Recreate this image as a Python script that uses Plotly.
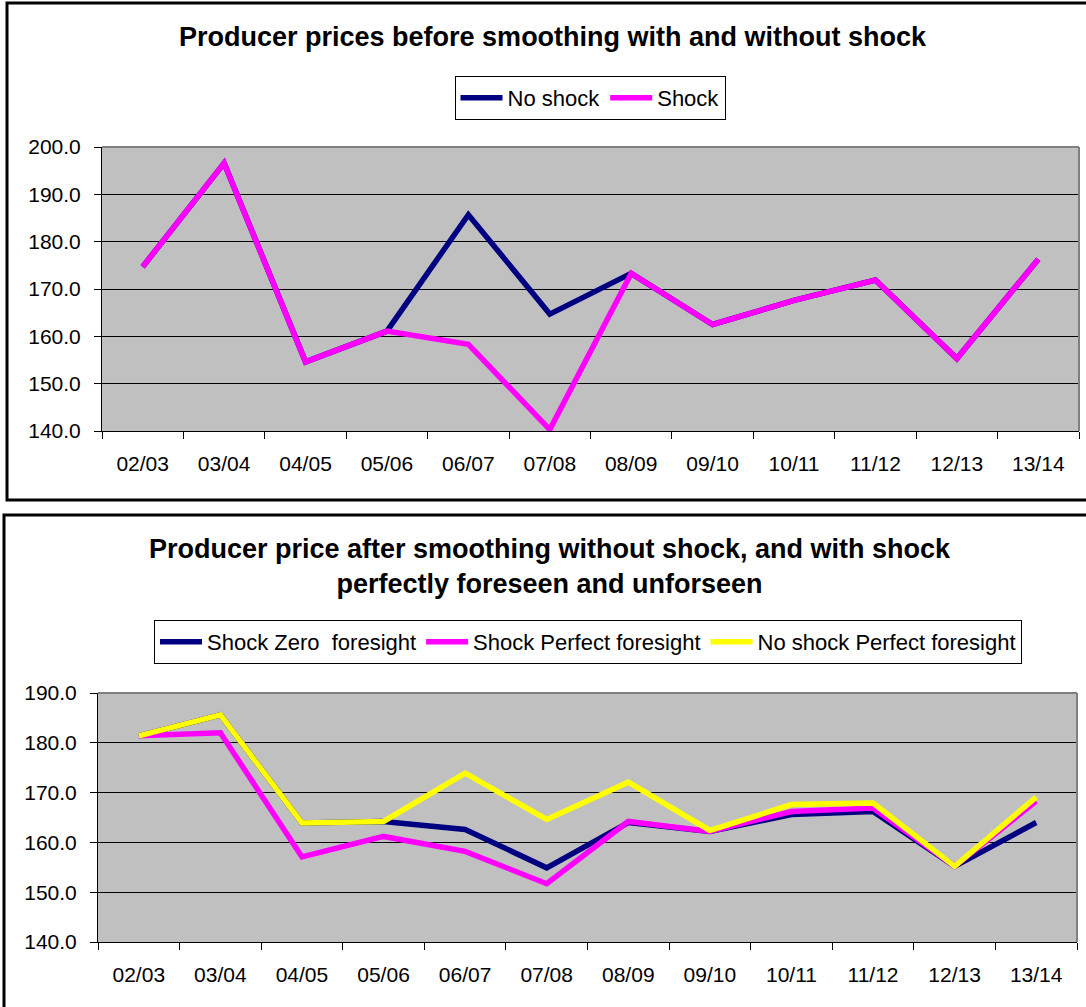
import plotly.graph_objects as go

seasons = ["02/03", "03/04", "04/05", "05/06", "06/07", "07/08",
           "08/09", "09/10", "10/11", "11/12", "12/13", "13/14"]

# Top chart: producer prices before smoothing
no_shock = [174.7, 196.6, 154.6, 161.1, 185.7, 164.7, 173.3, 162.5, 167.6, 171.9, 155.3, 176.3]
shock = [174.7, 196.6, 154.6, 161.1, 158.3, 140.3, 173.3, 162.5, 167.6, 171.9, 155.3, 176.3]

# Bottom chart: producer price after smoothing
shock_zero_fs = [181.4, 185.6, 163.9, 164.2, 162.6, 154.9, 164.0, 162.2, 165.6, 166.2, 155.2, 164.0]
shock_perfect_fs = [181.4, 182.0, 157.1, 161.2, 158.2, 151.7, 164.2, 162.2, 166.2, 166.9, 155.2, 168.3]
noshock_perfect_fs = [181.4, 185.6, 163.9, 164.2, 173.9, 164.6, 172.1, 162.4, 167.6, 167.9, 155.2, 169.1]

top_title = "Producer prices before smoothing with and without shock"
bottom_title = "Producer price after smoothing without shock, and with shock<br>perfectly foreseen and unforseen"

NAVY = "#000080"
MAGENTA = "#FF00FF"
YELLOW = "#FFFF00"
FONT = "Liberation Sans, Arial, sans-serif"
W, H = 1086, 1007
LW = 5.5


def px(x):
    return x / W


def py(y):
    return 1 - y / H


fig = go.Figure()

fig.add_trace(go.Scatter(x=seasons, y=no_shock, name="No shock", mode="lines",
                         line=dict(color=NAVY, width=LW), xaxis="x", yaxis="y", legend="legend"))
fig.add_trace(go.Scatter(x=seasons, y=shock, name="Shock", mode="lines",
                         line=dict(color=MAGENTA, width=LW), xaxis="x", yaxis="y", legend="legend"))

fig.add_trace(go.Scatter(x=seasons, y=shock_zero_fs, name="Shock Zero  foresight", mode="lines",
                         line=dict(color=NAVY, width=LW), xaxis="x2", yaxis="y2", legend="legend2"))
fig.add_trace(go.Scatter(x=seasons, y=shock_perfect_fs, name="Shock Perfect foresight", mode="lines",
                         line=dict(color=MAGENTA, width=LW), xaxis="x2", yaxis="y2", legend="legend2"))
fig.add_trace(go.Scatter(x=seasons, y=noshock_perfect_fs, name="No shock Perfect foresight", mode="lines",
                         line=dict(color=YELLOW, width=LW), xaxis="x2", yaxis="y2", legend="legend2"))

xcommon = dict(type="category", categoryorder="array", categoryarray=seasons,
               range=[-0.5, 11.5], tickson="boundaries", ticks="outside", ticklen=7,
               tickcolor="black", tickwidth=1, showline=True, linecolor="black", linewidth=1,
               showgrid=False, zeroline=False, tickfont=dict(family=FONT, size=21, color="black"),
               ticklabelstandoff=14, fixedrange=True, automargin=False)
ycommon = dict(ticks="outside", ticklen=7, tickcolor="black", tickwidth=1,
               showline=True, linecolor="black", linewidth=1, showgrid=True,
               gridcolor="black", gridwidth=1, zeroline=False, tickformat=".1f", dtick=10,
               tickfont=dict(family=FONT, size=21, color="black"), ticklabelstandoff=9,
               fixedrange=True, automargin=False)

fig.update_layout(
    width=W, height=H,
    margin=dict(l=0, r=0, t=0, b=0, autoexpand=False),
    paper_bgcolor="white",
    plot_bgcolor="#C0C0C0",
    font=dict(family=FONT, color="black"),
    xaxis=dict(domain=[px(102), px(1079)], anchor="y", **xcommon),
    yaxis=dict(domain=[py(431), py(147)], anchor="x", range=[140, 200], **ycommon),
    xaxis2=dict(domain=[px(98), px(1077)], anchor="y2", **xcommon),
    yaxis2=dict(domain=[py(942), py(693)], anchor="x2", range=[140, 190], **ycommon),
    legend=dict(orientation="h", x=px(590), xanchor="center", y=py(76), yanchor="top",
                bordercolor="black", borderwidth=1, bgcolor="white",
                font=dict(family=FONT, size=22, color="black"),
                itemwidth=42, tracegroupgap=0),
    legend2=dict(orientation="h", x=px(588), xanchor="center", y=py(620), yanchor="top",
                 bordercolor="black", borderwidth=1, bgcolor="white",
                 font=dict(family=FONT, size=22, color="black"),
                 itemwidth=42, tracegroupgap=0),
    showlegend=True,
)

fig.add_annotation(text="<b>" + top_title + "</b>", xref="paper", yref="paper",
                   x=px(553), y=py(37), xanchor="center", yanchor="middle", showarrow=False,
                   font=dict(family=FONT, size=27, color="black"))
fig.add_annotation(text="<b>" + bottom_title + "</b>", xref="paper", yref="paper",
                   x=px(550), y=py(566), xanchor="center", yanchor="middle", showarrow=False,
                   font=dict(family=FONT, size=27, color="black"))

# plot-area grey frame (top/right)
for (x0, x1, y0, y1) in [(102, 1079, 147, 431), (98, 1077, 693, 942)]:
    fig.add_shape(type="line", xref="paper", yref="paper", x0=px(x0), x1=px(x1), y0=py(y0), y1=py(y0),
                  line=dict(color="#808080", width=2))
    fig.add_shape(type="line", xref="paper", yref="paper", x0=px(x1), x1=px(x1), y0=py(y0), y1=py(y1),
                  line=dict(color="#808080", width=2))

# outer chart borders
fig.add_shape(type="rect", xref="paper", yref="paper", x0=px(7), x1=px(1092), y0=py(500), y1=py(3),
              line=dict(color="black", width=3))
fig.add_shape(type="rect", xref="paper", yref="paper", x0=px(4), x1=px(1092), y0=py(1012), y1=py(515),
              line=dict(color="black", width=3))

fig.write_html("out.html", config={"displayModeBar": False},
               post_script="document.body.style.margin='0px';")
